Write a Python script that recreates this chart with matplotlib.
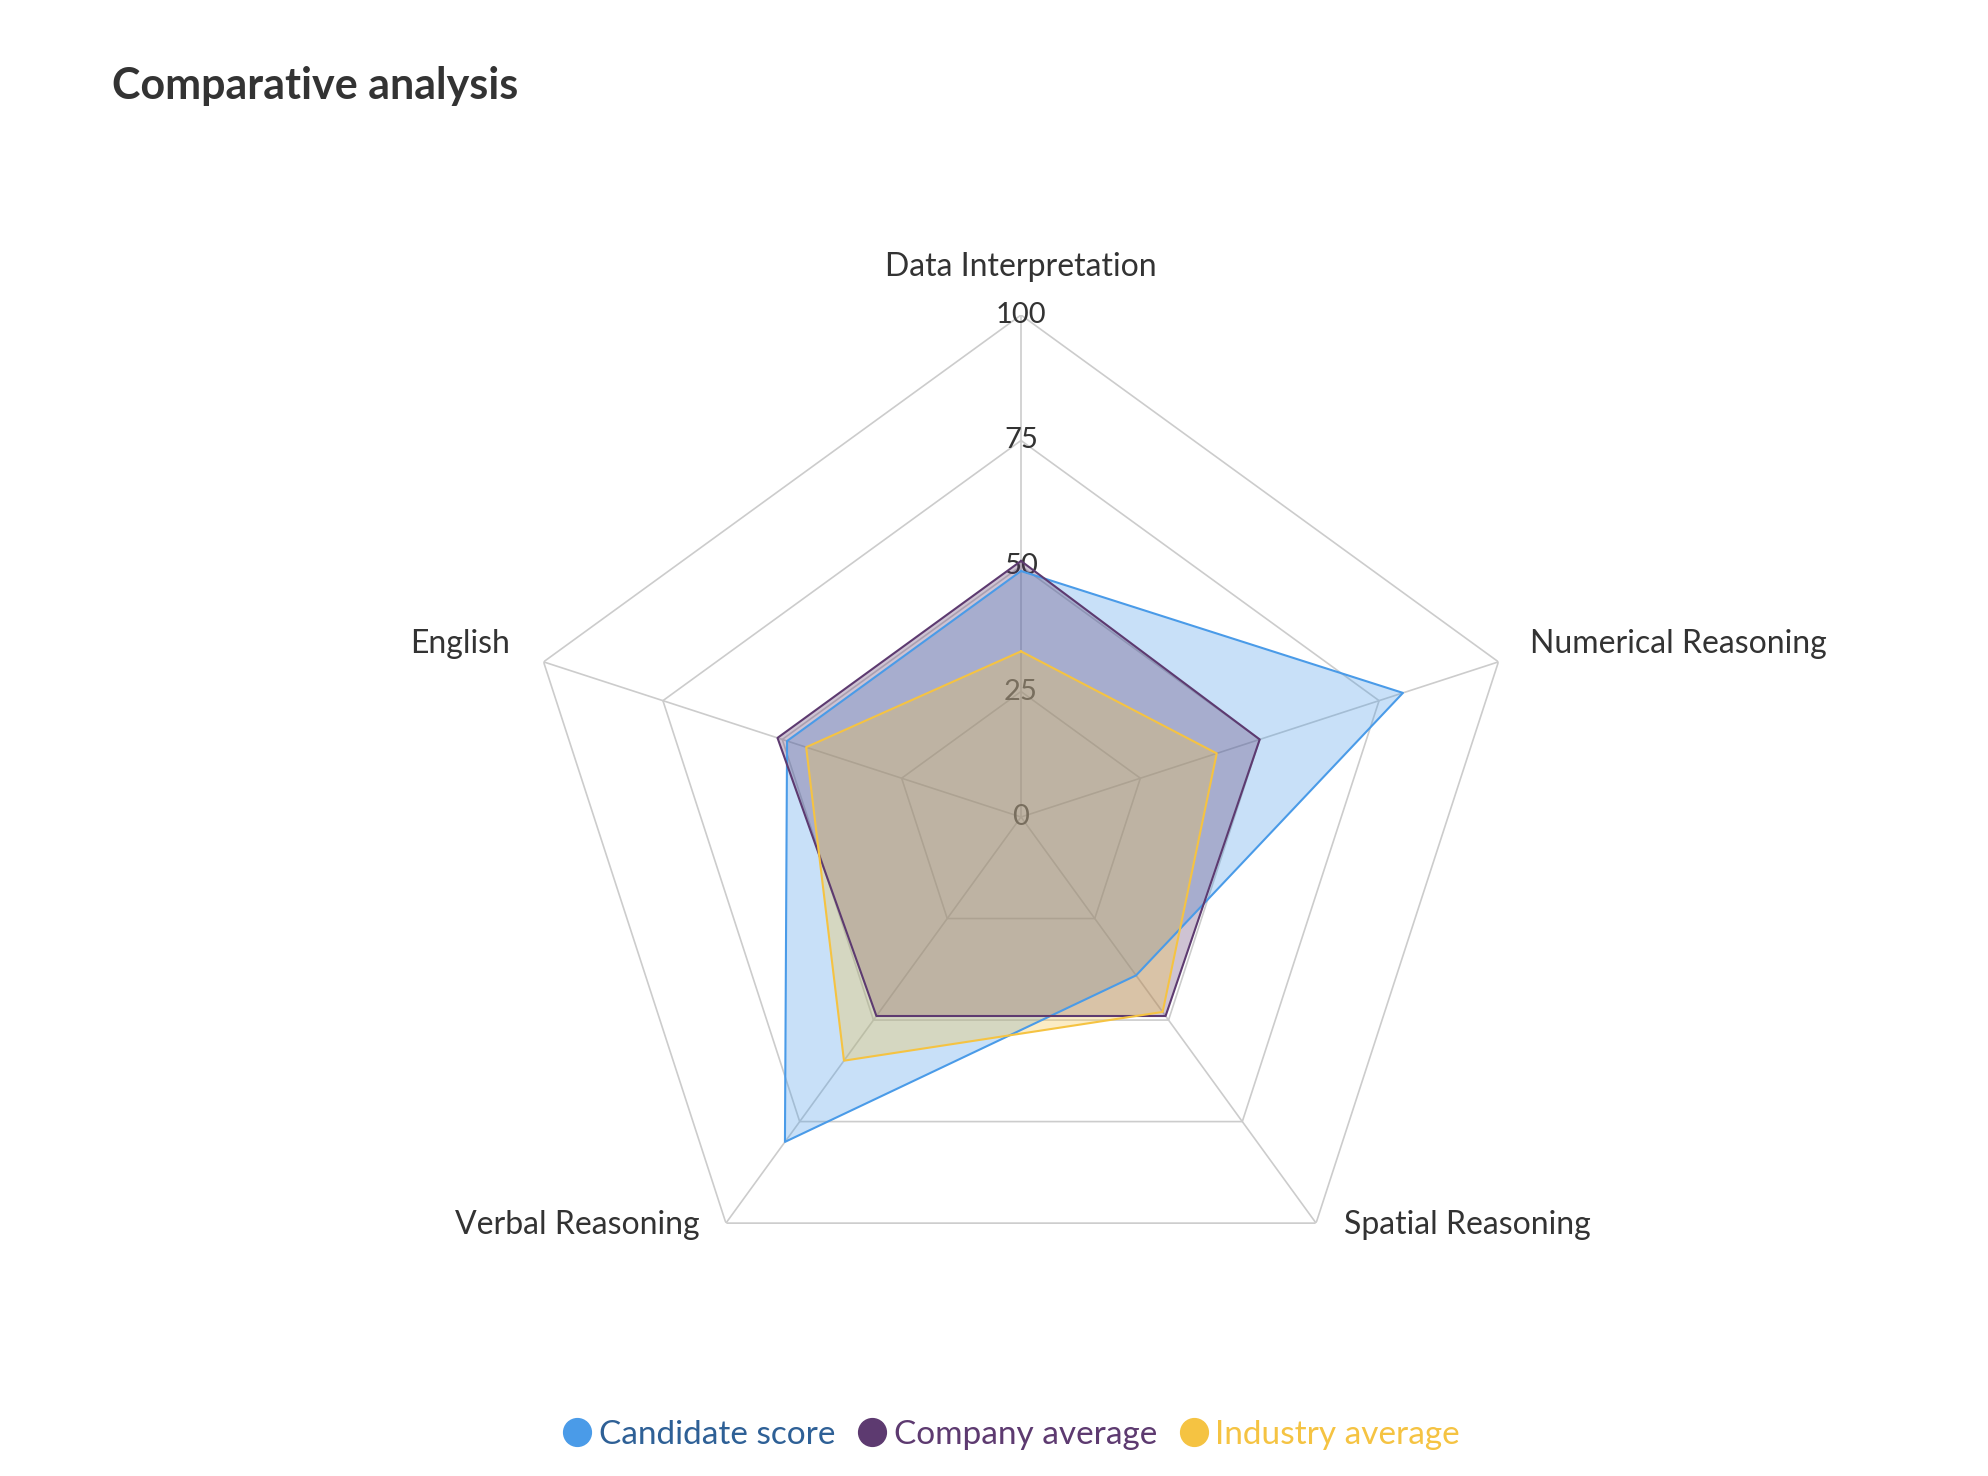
import matplotlib.pyplot as plt
import numpy as np

plt.rcParams["font.family"] = ["Lato", "DejaVu Sans"]

categories = ["Data Interpretation", "Numerical Reasoning", "Spatial Reasoning",
              "Verbal Reasoning", "English"]
candidate = [49, 80, 39, 80, 49]
company = [51, 50, 49, 49, 51]
industry = [33, 41, 48, 60, 45]
series_names = ["Candidate score", "Company average", "Industry average"]
line_colors = ["#4A9BE8", "#5D3A70", "#F5C342"]
text_colors = ["#2E6096", "#5D3A70", "#F5C342"]
rings = [0, 25, 50, 75, 100]

W, H = 1988, 1476
fig = plt.figure(figsize=(W / 100, H / 100), dpi=100)

cx, cy, r = 1021, 817, 502
ax = fig.add_axes([(cx - r) / W, 1 - (cy + r) / H, 2 * r / W, 2 * r / H], polar=True)
ax.set_theta_zero_location("N")
ax.set_theta_direction(-1)
ax.set_ylim(0, 100)
ax.axis("off")

n = len(categories)
theta = np.deg2rad(np.arange(n) * 360 / n)
theta_closed = np.append(theta, theta[0])

# polygon grid and spokes
for lvl in rings[1:]:
    ax.plot(theta_closed, [lvl] * (n + 1), color="#cccccc", lw=1.2, zorder=1)
for t in theta:
    ax.plot([t, t], [0, 100], color="#cccccc", lw=1.2, zorder=1)
for lvl in rings:
    ax.text(0, lvl, str(lvl), ha="center", va="center", fontsize=21,
            color="#333333", zorder=2)

for vals, col in zip([candidate, company, industry], line_colors):
    v = np.append(vals, vals[0])
    ax.fill(theta_closed, v, color=col, alpha=0.3, lw=0, zorder=3)
    ax.plot(theta_closed, v, color=col, lw=1.5, zorder=4)

# category labels
offsets = [(0, 48, "center"), (32, 18, "left"), (28, -2, "left"),
           (-26, -2, "right"), (-34, 18, "right")]
for t, name, (dx, dy, ha) in zip(theta, categories, offsets):
    ax.annotate(name, xy=(t, 100), xytext=(dx, dy), textcoords="offset pixels",
                ha=ha, va="center", fontsize=23, color="#333333",
                annotation_clip=False)

fig.text(112 / W, 1 - 86 / H, "Comparative analysis", fontsize=31,
         fontweight="bold", color="#333333", va="center", ha="left")

handles = [plt.Line2D([], [], marker="o", ls="", ms=20, color=c) for c in line_colors]
fig.legend(handles, series_names, loc="center", bbox_to_anchor=(0.509, 1 - 1435 / H),
           ncol=3, frameon=False, fontsize=24, handletextpad=0.25,
           columnspacing=0.7, labelcolor=text_colors, handlelength=0.8)

fig.savefig("out.png", dpi=100)
